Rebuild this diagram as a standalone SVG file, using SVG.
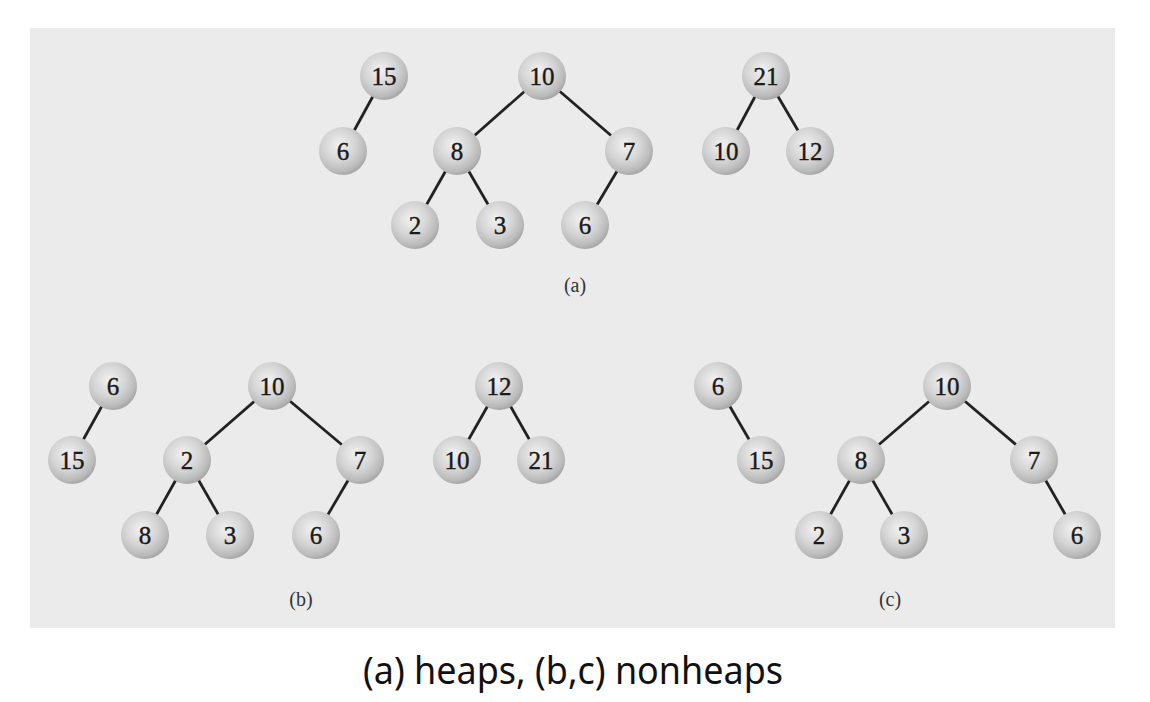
<svg xmlns="http://www.w3.org/2000/svg" width="1150" height="702" viewBox="0 0 1150 702">
<defs>
<radialGradient id="ball" cx="0.42" cy="0.38" r="0.62">
<stop offset="0" stop-color="#f2f2f2"/>
<stop offset="0.55" stop-color="#d4d4d4"/>
<stop offset="0.88" stop-color="#bababa"/>
<stop offset="1" stop-color="#a8a8a8"/>
</radialGradient>
</defs>
<style>
.n circle{fill:url(#ball);}
.n text{font-family:"Liberation Serif","Times New Roman",serif;font-size:25px;fill:#1a1a1a;text-anchor:middle;stroke:#1a1a1a;stroke-width:0.4;}
.e line{stroke:#222;stroke-width:2.8;}
.lbl{font-family:"Liberation Serif","Times New Roman",serif;font-size:20px;fill:#333;text-anchor:middle;}
.cap{font-family:"Noto Sans","Open Sans",sans-serif;font-size:38px;fill:#111;text-anchor:middle;}
</style>
<rect x="0" y="0" width="1150" height="702" fill="#ffffff"/>
<rect x="30" y="28" width="1085" height="600" fill="#ebebeb"/>
<g id="connectors" class="e">
<line x1="384" y1="76" x2="343" y2="151"/>
<line x1="542" y1="76" x2="457" y2="151"/>
<line x1="542" y1="76" x2="629" y2="151"/>
<line x1="457" y1="151" x2="415" y2="225"/>
<line x1="457" y1="151" x2="500" y2="225"/>
<line x1="629" y1="151" x2="585" y2="225"/>
<line x1="766" y1="76" x2="726" y2="151"/>
<line x1="766" y1="76" x2="810" y2="151"/>
<line x1="113" y1="386" x2="72" y2="460"/>
<line x1="272" y1="386" x2="187" y2="460"/>
<line x1="272" y1="386" x2="360" y2="460"/>
<line x1="187" y1="460" x2="145" y2="535"/>
<line x1="187" y1="460" x2="230" y2="535"/>
<line x1="360" y1="460" x2="316" y2="535"/>
<line x1="499" y1="386" x2="457" y2="460"/>
<line x1="499" y1="386" x2="541" y2="460"/>
<line x1="718" y1="386" x2="761" y2="460"/>
<line x1="947" y1="386" x2="861" y2="460"/>
<line x1="947" y1="386" x2="1034" y2="460"/>
<line x1="861" y1="460" x2="819" y2="535"/>
<line x1="861" y1="460" x2="904" y2="535"/>
<line x1="1034" y1="460" x2="1077" y2="535"/>
</g>
<g id="a15" class="n"><circle cx="384" cy="76" r="24"/><text x="384" y="84.5">15</text></g>
<g id="a6" class="n"><circle cx="343" cy="151" r="24"/><text x="343" y="159.5">6</text></g>
<g id="a10" class="n"><circle cx="542" cy="76" r="24"/><text x="542" y="84.5">10</text></g>
<g id="a8" class="n"><circle cx="457" cy="151" r="24"/><text x="457" y="159.5">8</text></g>
<g id="a7" class="n"><circle cx="629" cy="151" r="24"/><text x="629" y="159.5">7</text></g>
<g id="a2" class="n"><circle cx="415" cy="225" r="24"/><text x="415" y="233.5">2</text></g>
<g id="a3" class="n"><circle cx="500" cy="225" r="24"/><text x="500" y="233.5">3</text></g>
<g id="a6b" class="n"><circle cx="585" cy="225" r="24"/><text x="585" y="233.5">6</text></g>
<g id="a21" class="n"><circle cx="766" cy="76" r="24"/><text x="766" y="84.5">21</text></g>
<g id="a10b" class="n"><circle cx="726" cy="151" r="24"/><text x="726" y="159.5">10</text></g>
<g id="a12" class="n"><circle cx="810" cy="151" r="24"/><text x="810" y="159.5">12</text></g>
<g id="b6" class="n"><circle cx="113" cy="386" r="24"/><text x="113" y="394.5">6</text></g>
<g id="b15" class="n"><circle cx="72" cy="460" r="24"/><text x="72" y="468.5">15</text></g>
<g id="b10" class="n"><circle cx="272" cy="386" r="24"/><text x="272" y="394.5">10</text></g>
<g id="b2" class="n"><circle cx="187" cy="460" r="24"/><text x="187" y="468.5">2</text></g>
<g id="b7" class="n"><circle cx="360" cy="460" r="24"/><text x="360" y="468.5">7</text></g>
<g id="b8" class="n"><circle cx="145" cy="535" r="24"/><text x="145" y="543.5">8</text></g>
<g id="b3" class="n"><circle cx="230" cy="535" r="24"/><text x="230" y="543.5">3</text></g>
<g id="b6b" class="n"><circle cx="316" cy="535" r="24"/><text x="316" y="543.5">6</text></g>
<g id="b12" class="n"><circle cx="499" cy="386" r="24"/><text x="499" y="394.5">12</text></g>
<g id="b10b" class="n"><circle cx="457" cy="460" r="24"/><text x="457" y="468.5">10</text></g>
<g id="b21" class="n"><circle cx="541" cy="460" r="24"/><text x="541" y="468.5">21</text></g>
<g id="c6" class="n"><circle cx="718" cy="386" r="24"/><text x="718" y="394.5">6</text></g>
<g id="c15" class="n"><circle cx="761" cy="460" r="24"/><text x="761" y="468.5">15</text></g>
<g id="c10" class="n"><circle cx="947" cy="386" r="24"/><text x="947" y="394.5">10</text></g>
<g id="c8" class="n"><circle cx="861" cy="460" r="24"/><text x="861" y="468.5">8</text></g>
<g id="c7" class="n"><circle cx="1034" cy="460" r="24"/><text x="1034" y="468.5">7</text></g>
<g id="c2" class="n"><circle cx="819" cy="535" r="24"/><text x="819" y="543.5">2</text></g>
<g id="c3" class="n"><circle cx="904" cy="535" r="24"/><text x="904" y="543.5">3</text></g>
<g id="c6b" class="n"><circle cx="1077" cy="535" r="24"/><text x="1077" y="543.5">6</text></g>
<text class="lbl" x="575" y="292">(a)</text>
<text class="lbl" x="301" y="606">(b)</text>
<text class="lbl" x="890" y="606">(c)</text>
<text class="cap" x="573" y="684" textLength="420" lengthAdjust="spacingAndGlyphs">(a) heaps, (b,c) nonheaps</text>
</svg>
